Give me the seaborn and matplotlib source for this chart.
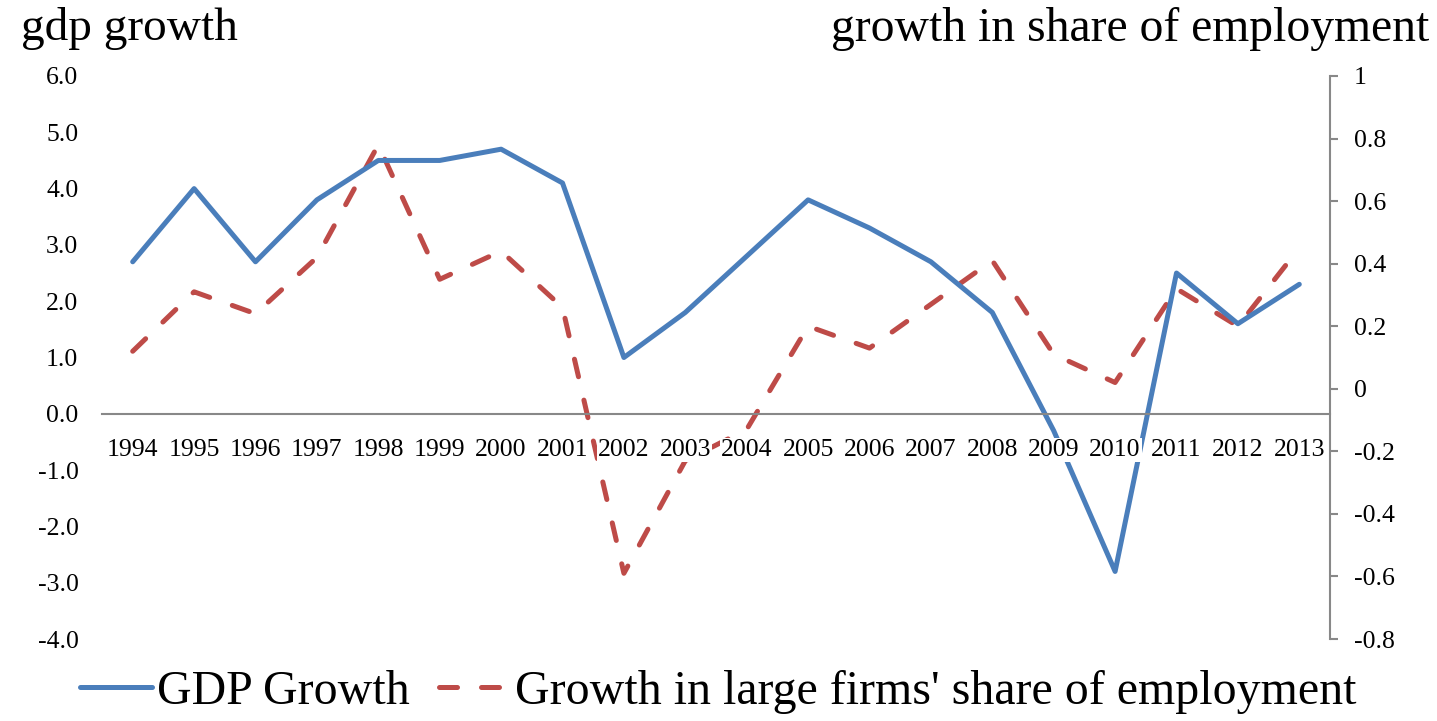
import matplotlib
matplotlib.use('Agg')
import matplotlib.pyplot as plt
from matplotlib.ticker import FuncFormatter, FixedLocator
import seaborn as sns
import pandas as pd

# ---- data ----
years = ['1994', '1995', '1996', '1997', '1998', '1999', '2000', '2001', '2002', '2003',
         '2004', '2005', '2006', '2007', '2008', '2009', '2010', '2011', '2012', '2013']
gdp_growth = [2.7, 4.0, 2.7, 3.8, 4.5, 4.5, 4.7, 4.1, 1.0, 1.8,
              2.8, 3.8, 3.3, 2.7, 1.8, -0.3, -2.8, 2.5, 1.6, 2.3]
share_growth = [0.12, 0.31, 0.24, 0.42, 0.78, 0.35, 0.44, 0.26, -0.59, -0.23,
                -0.13, 0.20, 0.13, 0.27, 0.41, 0.11, 0.02, 0.32, 0.20, 0.45]
left_ticks = [-4.0, -3.0, -2.0, -1.0, 0.0, 1.0, 2.0, 3.0, 4.0, 5.0, 6.0]
right_ticks = [-0.8, -0.6, -0.4, -0.2, 0.0, 0.2, 0.4, 0.6, 0.8, 1.0]
legend_labels = ['GDP Growth', "Growth in large firms' share of employment"]
left_title = 'gdp growth'
right_title = 'growth in share of employment'

BLUE = '#4A7EBB'
RED = '#BE4B48'
GRAY = '#888888'

sns.set_theme(style='white')
plt.rcParams['font.family'] = ['Liberation Serif', 'DejaVu Serif']
plt.rcParams['text.color'] = 'black'
plt.rcParams['xtick.color'] = 'black'
plt.rcParams['ytick.color'] = 'black'
plt.rcParams['axes.labelcolor'] = 'black'

df = pd.DataFrame({'year': years, 'pos': range(len(years)),
                   'gdp': gdp_growth, 'share': share_growth})

fig = plt.figure(figsize=(14.37, 7.21), dpi=100)
ax = fig.add_axes([102 / 1437, 1 - 639 / 721, (1330 - 102) / 1437, (639 - 76) / 721])
ax2 = ax.twinx()
# primary axes (blue line + category labels) drawn above the secondary one
ax.set_zorder(ax2.get_zorder() + 1)
ax.patch.set_visible(False)
ax.set_axisbelow(False)

sns.lineplot(data=df, x='pos', y='gdp', ax=ax, color=BLUE, linewidth=3.6,
             solid_joinstyle='round', solid_capstyle='round')
sns.lineplot(data=df, x='pos', y='share', ax=ax2, color=RED, linewidth=3.6,
             linestyle=(0, (3.6, 4.8)), dash_capstyle='round', dash_joinstyle='round')

ax.set_xlim(-0.5, len(years) - 0.5)
ax.set_ylim(-4, 6)
ax2.set_ylim(-0.8, 1.0)

ax.set_xticks(list(df['pos']))
ax.set_xticklabels(years)
ax.yaxis.set_major_locator(FixedLocator(left_ticks))
ax.yaxis.set_major_formatter(FuncFormatter(lambda v, p: f'{v:.1f}'))
ax2.yaxis.set_major_locator(FixedLocator(right_ticks))
ax2.yaxis.set_major_formatter(FuncFormatter(lambda v, p: f'{round(v, 2):g}'))

ax.set_xlabel('')
ax.set_ylabel('')
ax2.set_ylabel('')

for s in ['left', 'right', 'top']:
    ax.spines[s].set_visible(False)
ax.spines['bottom'].set_position(('data', 0))
ax.spines['bottom'].set_color(GRAY)
ax.spines['bottom'].set_linewidth(1.5)
for s in ['left', 'bottom', 'top']:
    ax2.spines[s].set_visible(False)
ax2.spines['right'].set_color(GRAY)
ax2.spines['right'].set_linewidth(1.5)

ax.tick_params(axis='x', length=0, pad=18, labelsize=18.5, labelcolor='black')
ax.tick_params(axis='y', length=0, pad=17, labelsize=18.5, labelcolor='black')
ax2.tick_params(axis='y', length=6, width=1.5, color=GRAY, pad=11, labelsize=18.5,
                labelcolor='black', direction='out')
ax.grid(False)
ax2.grid(False)
for lbl in ax.get_xticklabels():
    lbl.set_bbox(dict(facecolor='white', edgecolor='none', pad=0.5))

fig.text(21 / 1437, 1 - 40 / 721, left_title, fontsize=34, ha='left', va='baseline',
         color='black')
fig.text(1429 / 1437, 1 - 41 / 721, right_title, fontsize=34.3, ha='right', va='baseline',
         color='black')

h1 = ax.lines[0]
h2 = ax2.lines[0]
fig.legend(handles=[h1, h2], labels=legend_labels, loc='center',
           bbox_to_anchor=(0.5, 1 - 692 / 721), ncol=2, frameon=False, fontsize=34.5,
           handlelength=1.5, handletextpad=0.1, columnspacing=0.6, borderaxespad=0,
           labelcolor='black')

fig.savefig('out.png', dpi=100)
